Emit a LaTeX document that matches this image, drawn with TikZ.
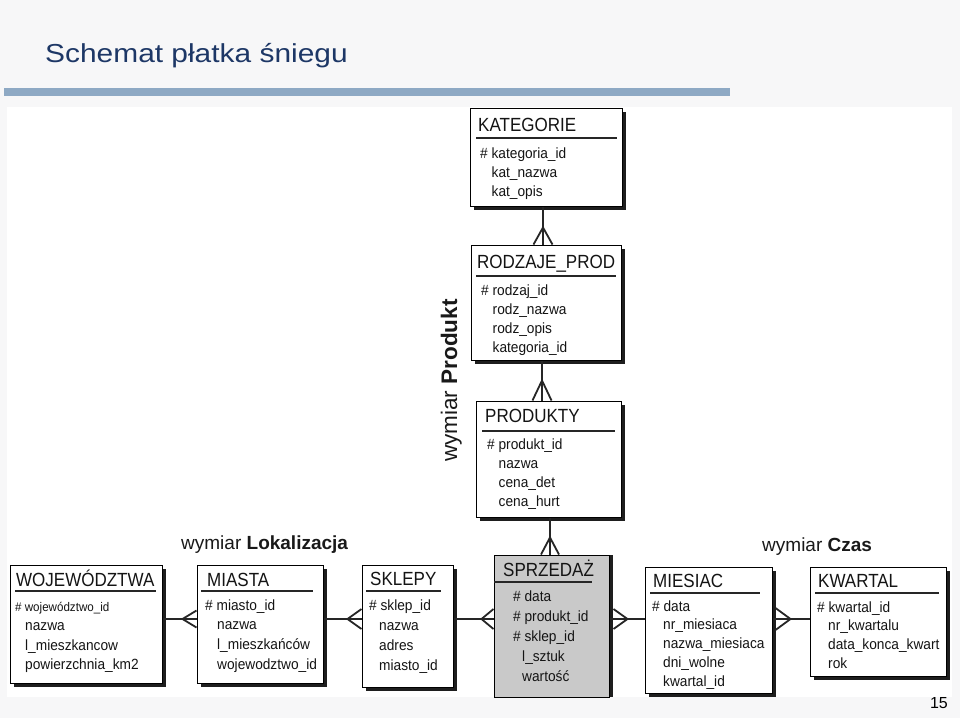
\documentclass[tikz,border=0pt]{standalone}
\usepackage{fontspec}
\usepackage{graphicx}
\setmainfont{Liberation Sans}
\usetikzlibrary{fit,shadows}
\definecolor{bgc}{HTML}{F7F7F8}
\definecolor{barc}{HTML}{8EA9C4}
\definecolor{titlec}{HTML}{1D3766}
\definecolor{shadowc}{HTML}{1E1E1E}
\definecolor{factc}{HTML}{C9C9C9}
\tikzset{
  ebox/.style={draw=black, line width=1pt, fill=white, inner sep=0pt,
    drop shadow={shadow xshift=4pt, shadow yshift=-4pt, opacity=1, fill=shadowc}},
  fbox/.style={draw=black, line width=1pt, fill=factc, inner sep=0pt,
    drop shadow={shadow xshift=4pt, shadow yshift=0pt, opacity=1, fill=shadowc}},
  etitle/.style={inner sep=0pt, anchor=base west, font=\fontsize{17}{20}\selectfont, text=black!92},
  efield/.style={inner sep=0pt, anchor=base west, font=\fontsize{13.7}{16}\selectfont, text=black!92},
  uline/.style={line width=1.6pt, draw=black!85},
  conn/.style={line width=1.8pt, draw=black!85},
  dimlabel/.style={inner sep=0pt, anchor=base west, font=\fontsize{19}{22}\selectfont, text=black!90},
}
\newcommand\ttl[1]{\scalebox{1}[1.12]{#1}}
\newcommand\efields[6]{%
  \foreach \fk/\ftx [count=\fnum] in {#6}{%
    \node[efield] (#1-\fnum) at ({#2+\fk*#3},{#4+(\fnum-1)*#5}) {\scalebox{1}[1.08]{\ftx}};}}
\begin{document}
\begin{tikzpicture}[x=1pt,y=-1pt]
\useasboundingbox (0,0) rectangle (960,718);
\fill[bgc] (0,0) rectangle (960,718);
\fill[barc] (4,88) rectangle (730,96);
\fill[white] (7,107) rectangle (952,697);
\node[inner sep=0pt, anchor=base west, text=titlec, font=\fontsize{26}{30}\selectfont] (title) at (45,62) {\scalebox{1.15}[1]{Schemat płatka śniegu}};
\node[inner sep=0pt, anchor=base east, font=\fontsize{16}{18}\selectfont] (pnum) at (948,708) {15};

% KATEGORIE
\node[ebox, fit={(470,108) (622,206)}] (kat) {};
\node[etitle] (kat-t) at (478,131) {\ttl{KATEGORIE}};
\draw[uline] (476,138) -- (617,138);
\efields{kat}{480}{11.5}{158}{19.3}{0/\# kategoria\_id, 1/kat\_nazwa, 1/kat\_opis}

% RODZAJE_PROD
\node[ebox, fit={(471,245) (621,360)}] (rodz) {};
\node[etitle] (rodz-t) at (477,268) {\ttl{RODZAJE\_PROD}};
\draw[uline] (476,276) -- (616,276);
\efields{rodz}{481}{11.5}{295}{19.3}{0/\# rodzaj\_id, 1/rodz\_nazwa, 1/rodz\_opis, 1/kategoria\_id}

% PRODUKTY
\node[ebox, fit={(476,401) (621,517)}] (prod) {};
\node[etitle] (prod-t) at (485,422) {\ttl{PRODUKTY}};
\draw[uline] (482,431) -- (615,431);
\efields{prod}{487}{11.5}{449}{19.3}{0/\# produkt\_id, 1/nazwa, 1/cena\_det, 1/cena\_hurt}

% WOJEWODZTWA
\node[ebox, fit={(10,565) (162,683)}] (woj) {};
\node[etitle] (woj-t) at (16,586) {\ttl{WOJEWÓDZTWA}};
\draw[uline] (15,591) -- (156,591);
\efields{woj}{15}{10}{611}{19.6}{0/{\fontsize{11.6}{14}\selectfont\# województwo\_id}, 1/nazwa, 1/l\_mieszkancow, 1/powierzchnia\_km2}

% MIASTA
\node[ebox, fit={(197,565) (323,683)}] (mias) {};
\node[etitle] (mias-t) at (207,586) {\ttl{MIASTA}};
\draw[uline] (201,591) -- (313,591);
\efields{mias}{205}{12}{610}{19.8}{0/\# miasto\_id, 1/nazwa, 1/l\_mieszkańców, 1/wojewodztwo\_id}

% SKLEPY
\node[ebox, fit={(362,565) (453,687)}] (skl) {};
\node[etitle] (skl-t) at (370,585) {\ttl{SKLEPY}};
\draw[uline] (366,591) -- (441,591);
\efields{skl}{369}{10}{610}{20}{0/\# sklep\_id, 1/nazwa, 1/adres, 1/miasto\_id}

% SPRZEDAZ
\node[fbox, fit={(494,555) (609,697)}] (sprz) {};
\node[etitle] (sprz-t) at (503,576) {\ttl{SPRZEDAŻ}};
\draw[uline] (494,582) -- (592,582);
\efields{sprz}{513}{9}{601}{20}{0/\# data, 0/\# produkt\_id, 0/\# sklep\_id, 1/l\_sztuk, 1/wartość}

% MIESIAC
\node[ebox, fit={(645,567) (772,693)}] (mies) {};
\node[etitle] (mies-t) at (653,587) {\ttl{MIESIAC}};
\draw[uline] (650,593) -- (760,593);
\efields{mies}{652}{11}{611}{18.8}{0/\# data, 1/nr\_miesiaca, 1/nazwa\_miesiaca, 1/dni\_wolne, 1/kwartal\_id}

% KWARTAL
\node[ebox, fit={(810,567) (946,676)}] (kw) {};
\node[etitle] (kw-t) at (818,587) {\ttl{KWARTAL}};
\draw[uline] (815,593) -- (939,593);
\efields{kw}{817}{11}{612}{18.7}{0/\# kwartal\_id, 1/nr\_kwartalu, 1/data\_konca\_kwart, 1/rok}

% labels
\node[dimlabel] (lok) at (181,549) {wymiar \textbf{Lokalizacja}};
\node[dimlabel] (czas) at (762,551) {wymiar \textbf{Czas}};
\node[dimlabel, font=\fontsize{22.5}{26}\selectfont, rotate=90] (prodlab) at (457,462) {wymiar \textbf{Produkt}};

% connectors (vertical)
\coordinate (s1) at ([xshift=-3pt]kat.south);
\draw[conn] (s1) -- (s1 |- rodz.north) coordinate (e1);
\draw[conn] ([yshift=17pt]e1) -- ([xshift=-9.5pt]e1) ([yshift=17pt]e1) -- ([xshift=9.5pt]e1);

\coordinate (s2) at ([xshift=-4pt]rodz.south);
\draw[conn] (s2) -- (s2 |- prod.north) coordinate (e2);
\draw[conn] ([yshift=20pt]e2) -- ([xshift=-9.5pt]e2) ([yshift=20pt]e2) -- ([xshift=9.5pt]e2);

\coordinate (s3) at ([xshift=1.5pt]prod.south);
\draw[conn] (s3) -- (s3 |- sprz.north) coordinate (e3);
\draw[conn] ([yshift=17pt]e3) -- ([xshift=-9pt]e3) ([yshift=17pt]e3) -- ([xshift=9pt]e3);

% connectors (horizontal)
\coordinate (row) at (0,619);
\draw[conn] (woj.east |- row) -- (mias.west |- row) coordinate (e4);
\draw[conn] ([xshift=-14pt]e4) -- ([yshift=8.5pt]e4) ([xshift=-14pt]e4) -- ([yshift=-8.5pt]e4);

\draw[conn] (mias.east |- row) -- (skl.west |- row) coordinate (e5);
\draw[conn] ([xshift=-14pt]e5) -- ([yshift=10pt]e5) ([xshift=-14pt]e5) -- ([yshift=-10pt]e5);

\draw[conn] (skl.east |- row) -- (sprz.west |- row) coordinate (e6);
\draw[conn] ([xshift=-12pt]e6) -- ([yshift=10pt]e6) ([xshift=-12pt]e6) -- ([yshift=-10pt]e6);

\draw[conn] (sprz.east |- row) coordinate (e7b) -- (mies.west |- row);
\coordinate (e7) at ([xshift=4pt]e7b);
\draw[conn] ([xshift=14pt]e7) -- ([yshift=10pt]e7) ([xshift=14pt]e7) -- ([yshift=-10pt]e7);

\draw[conn] (mies.east |- row) coordinate (e8b) -- (kw.west |- row);
\coordinate (e8) at ([xshift=3pt]e8b);
\draw[conn] ([xshift=15pt]e8) -- ([yshift=11pt]e8) ([xshift=15pt]e8) -- ([yshift=-11pt]e8);
\end{tikzpicture}
\end{document}
